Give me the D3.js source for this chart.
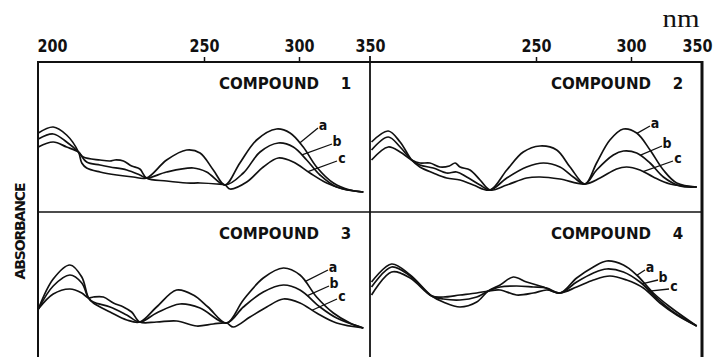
<!DOCTYPE html>
<html>
<head>
<meta charset="utf-8">
<script src="https://cdn.jsdelivr.net/npm/d3@7"></script>
<style>
  body { margin: 0; background: #fff; }
  svg { display: block; }
</style>
</head>
<body>
<div id="chart"></div>
<script>
// spectra: [wavelength nm, absorbance (arbitrary units)]
var compound1a = [[195.5,0.79],[200.4,0.85],[204.8,0.77],[208.7,0.60],[209.8,0.49],[211.4,0.44],[215.8,0.40],[221.3,0.37],[226.7,0.35],[231.1,0.34],[237.7,0.52],[244.3,0.62],[248.7,0.59],[254.9,0.42],[261.1,0.27],[268.9,0.49],[277.7,0.72],[288.2,0.83],[295.3,0.79],[303.0,0.65],[312.4,0.45],[324.2,0.29],[335.9,0.22],[345.3,0.20]];
var compound1b = [[195.5,0.73],[200.4,0.78],[204.8,0.70],[208.7,0.60],[211.4,0.50],[215.8,0.47],[219.1,0.45],[224.6,0.42],[228.9,0.37],[231.1,0.34],[237.7,0.40],[246.5,0.44],[251.4,0.40],[261.1,0.27],[270.7,0.39],[279.5,0.60],[289.1,0.69],[297.0,0.65],[305.4,0.52],[314.8,0.37],[326.5,0.25],[345.3,0.20]];
var compound1c = [[195.5,0.65],[200.4,0.70],[204.8,0.65],[208.7,0.60],[210.3,0.55],[215.8,0.52],[219.1,0.51],[220.7,0.52],[223.5,0.51],[226.2,0.46],[228.9,0.43],[231.1,0.34],[237.7,0.31],[244.3,0.29],[248.7,0.29],[256.7,0.28],[261.1,0.27],[263.7,0.23],[272.5,0.30],[281.2,0.45],[289.1,0.54],[297.0,0.50],[307.7,0.39],[319.5,0.29],[331.2,0.23],[345.3,0.20]];

var compound2a = [[195.9,0.70],[201.4,0.81],[205.3,0.70],[209.1,0.52],[211.8,0.45],[216.2,0.39],[220.6,0.34],[225.0,0.32],[229.4,0.27],[234.9,0.22],[240.4,0.42],[245.8,0.60],[252.1,0.66],[260.9,0.62],[267.9,0.45],[275.8,0.28],[281.9,0.49],[288.9,0.72],[296.0,0.83],[304.0,0.79],[313.4,0.62],[322.8,0.42],[332.2,0.29],[346.3,0.25]];
var compound2b = [[195.9,0.62],[201.4,0.75],[205.3,0.65],[209.1,0.52],[211.8,0.47],[216.2,0.44],[220.6,0.39],[223.9,0.40],[227.2,0.35],[231.6,0.27],[234.9,0.22],[240.4,0.34],[246.9,0.45],[253.9,0.49],[262.6,0.45],[269.6,0.35],[275.8,0.28],[281.9,0.42],[290.7,0.57],[296.0,0.61],[304.0,0.59],[313.4,0.49],[322.8,0.35],[334.5,0.26],[346.3,0.25]];
var compound2c = [[195.9,0.52],[201.4,0.65],[205.3,0.60],[209.1,0.52],[211.8,0.49],[215.1,0.49],[218.4,0.45],[221.5,0.46],[223.4,0.49],[225.0,0.45],[228.3,0.42],[231.6,0.32],[234.9,0.22],[240.4,0.27],[246.9,0.34],[252.1,0.35],[262.6,0.33],[275.8,0.28],[283.7,0.34],[292.4,0.43],[297.7,0.45],[306.3,0.42],[315.7,0.35],[327.5,0.28],[346.3,0.25]];

var compound3a = [[195.5,0.53],[200.4,0.83],[205.9,0.97],[209.8,0.85],[212.0,0.64],[213.6,0.59],[219.1,0.50],[224.6,0.42],[228.9,0.40],[234.4,0.55],[241.0,0.72],[246.5,0.67],[252.1,0.55],[261.9,0.39],[270.7,0.62],[281.2,0.84],[291.8,0.94],[300.7,0.87],[312.4,0.65],[324.2,0.49],[335.9,0.39],[345.3,0.34]];
var compound3b = [[195.5,0.53],[200.4,0.76],[205.9,0.87],[209.8,0.79],[212.0,0.64],[213.6,0.60],[219.1,0.55],[224.6,0.47],[228.9,0.40],[234.4,0.49],[242.1,0.58],[248.7,0.54],[261.9,0.39],[270.7,0.55],[281.2,0.70],[291.8,0.77],[300.7,0.72],[314.8,0.55],[326.5,0.44],[345.3,0.34]];
var compound3c = [[195.5,0.53],[200.4,0.68],[205.9,0.73],[209.8,0.69],[212.0,0.64],[213.6,0.65],[216.9,0.65],[220.2,0.59],[223.5,0.55],[226.2,0.50],[228.9,0.40],[234.4,0.40],[241.0,0.41],[247.6,0.36],[254.9,0.38],[261.9,0.39],[265.4,0.35],[274.2,0.45],[283.0,0.55],[291.8,0.63],[300.7,0.59],[312.4,0.49],[326.5,0.39],[345.3,0.34]];

var compound4a = [[195.9,0.80],[202.5,0.98],[208.6,0.87],[215.7,0.66],[219.5,0.60],[225.0,0.55],[230.5,0.60],[234.3,0.71],[238.2,0.77],[242.5,0.85],[246.9,0.80],[253.9,0.75],[262.6,0.69],[271.4,0.84],[280.2,0.95],[287.2,1.01],[296.0,0.97],[304.0,0.87],[315.7,0.69],[327.5,0.55],[346.3,0.36]];
var compound4b = [[195.9,0.75],[202.5,0.95],[208.6,0.86],[215.7,0.66],[219.5,0.63],[225.0,0.62],[230.5,0.65],[234.3,0.71],[238.2,0.75],[243.6,0.76],[249.1,0.75],[255.6,0.74],[262.6,0.69],[271.4,0.80],[280.2,0.89],[287.2,0.93],[296.0,0.90],[306.3,0.80],[318.0,0.64],[329.8,0.50],[346.3,0.36]];
var compound4c = [[195.9,0.67],[202.5,0.90],[208.6,0.84],[215.7,0.66],[219.5,0.65],[225.0,0.67],[230.5,0.69],[234.3,0.71],[238.2,0.72],[243.6,0.67],[249.1,0.69],[255.6,0.72],[262.6,0.69],[271.4,0.75],[280.2,0.82],[288.9,0.86],[297.7,0.82],[308.7,0.74],[320.4,0.59],[332.2,0.47],[346.3,0.36]];

var seriesNames = ["a", "b", "c"];
var compoundNumbers = ["1", "2", "3", "4"];
var tickLabelsLeft = [200, 250, 300, 350];
var tickLabelsRight = [250, 300, 350];
var tickMarks = [250, 300];
// wavelength where each a/b/c leader line meets its curve
var tagWavelengths = [[300.7, 302.1, 306.3], [304.2, 306.3, 308.5], [304.2, 305.6, 309.2], [304.2, 307.7, 311.3]];

var panels = [
    { series: [compound1a, compound1b, compound1c], col: 0, row: 0 },
    { series: [compound2a, compound2b, compound2c], col: 1, row: 0 },
    { series: [compound3a, compound3b, compound3c], col: 0, row: 1 },
    { series: [compound4a, compound4b, compound4c], col: 1, row: 1 }
];

// a/b/c letter placement inside each panel (px from panel corner: centre x, baseline y)
var tagAnchors = [
    [[285, 68], [299, 84], [304, 101]],
    [[285, 66], [297, 86], [308, 101]],
    [[295, 60], [296, 76], [304, 89]],
    [[280, 60], [293, 70], [304, 79]]
];

var width = 717, height = 357;
var left0 = 38, top0 = 62, panelW = 332, panelH = 150;

var svg = d3.select("#chart").append("svg")
    .attr("width", width)
    .attr("height", height);

var ink = "#111";

function xScale(col) {
    var x0 = left0 + col * panelW;
    // the instrument's wavelength axis is not linear
    return d3.scaleLinear()
        .domain([200, 250, 300, 350])
        .range([x0 + 14, x0 + 166, x0 + 261, x0 + 332]);
}
function yScale(row) {
    var t = top0 + row * panelH;
    return d3.scaleLinear().domain([0, 1.5]).range([t + panelH, t]);
}
function valueAt(data, w) {
    var i = d3.bisector(function (d) { return d[0]; }).left(data, w);
    i = Math.max(1, Math.min(data.length - 1, i));
    var p = data[i - 1], q = data[i];
    return p[1] + (q[1] - p[1]) * (w - p[0]) / (q[0] - p[0]);
}

// frame
var frame = svg.append("g").attr("stroke", ink).attr("fill", "none");
frame.append("line").attr("x1", left0 - 1).attr("x2", left0 + 2 * panelW).attr("y1", top0).attr("y2", top0).attr("stroke-width", 2);
frame.append("line").attr("x1", left0).attr("x2", left0 + 2 * panelW).attr("y1", top0 + panelH).attr("y2", top0 + panelH).attr("stroke-width", 1.5);
frame.append("line").attr("x1", left0).attr("x2", left0).attr("y1", top0 - 1).attr("y2", height).attr("stroke-width", 2);
frame.append("line").attr("x1", left0 + panelW).attr("x2", left0 + panelW).attr("y1", top0 - 6).attr("y2", height).attr("stroke-width", 1.8);
frame.append("line").attr("x1", left0 + 2 * panelW).attr("x2", left0 + 2 * panelW).attr("y1", top0 - 1).attr("y2", height).attr("stroke-width", 3);

// top wavelength axes
[0, 1].forEach(function (col) {
    var x = xScale(col);
    var labels = col === 0 ? tickLabelsLeft : tickLabelsRight;
    var axis = svg.append("g")
        .attr("transform", "translate(0," + top0 + ")")
        .call(d3.axisTop(x).tickValues(labels).tickSize(5).tickPadding(5).tickFormat(d3.format("d")));
    axis.select(".domain").remove();
    axis.selectAll(".tick line")
        .attr("stroke", ink)
        .attr("stroke-width", 1.5)
        .style("display", function (d) { return tickMarks.indexOf(d) >= 0 ? null : "none"; });
    axis.selectAll(".tick text")
        .attr("fill", ink)
        .attr("dx", function (d) { return col === 1 && d === 350 ? -5 : 0; })
        .style("font-family", "'DejaVu Sans Condensed', 'Liberation Sans Narrow', 'DejaVu Sans', sans-serif")
        .style("font-weight", "bold")
        .style("font-size", "17px")
        .attr("textLength", 30)
        .attr("lengthAdjust", "spacingAndGlyphs");
});

svg.append("text")
    .attr("x", 681).attr("y", 27)
    .attr("text-anchor", "middle")
    .attr("fill", ink)
    .style("font-family", "'Liberation Serif', 'DejaVu Serif', serif")
    .style("font-size", "26px")
    .attr("textLength", 37)
    .attr("lengthAdjust", "spacingAndGlyphs")
    .text("nm");

svg.append("text")
    .attr("transform", "translate(25,231) rotate(-90)")
    .attr("text-anchor", "middle")
    .attr("fill", ink)
    .style("font-family", "'DejaVu Sans', sans-serif")
    .style("font-weight", "bold")
    .style("font-size", "14px")
    .attr("textLength", 97)
    .attr("lengthAdjust", "spacing")
    .text("ABSORBANCE");

var line = d3.line().curve(d3.curveCatmullRom.alpha(0.5));

panels.forEach(function (p, k) {
    var x = xScale(p.col), y = yScale(p.row);
    var x0 = left0 + p.col * panelW, t = top0 + p.row * panelH;
    var g = svg.append("g");

    g.append("text")
        .attr("x", x0 + 181).attr("y", t + 27)
        .attr("fill", ink)
        .style("font-family", "'DejaVu Sans', sans-serif")
        .style("font-weight", "bold")
        .style("font-size", "15px")
        .attr("textLength", 100)
        .attr("lengthAdjust", "spacingAndGlyphs")
        .text("COMPOUND");
    g.append("text")
        .attr("x", x0 + 308).attr("y", t + 27)
        .attr("text-anchor", "middle")
        .attr("fill", ink)
        .style("font-family", "'DejaVu Sans', sans-serif")
        .style("font-weight", "bold")
        .style("font-size", "15px")
        .text(compoundNumbers[k]);

    g.selectAll("path.spec")
        .data(p.series)
        .enter().append("path")
        .attr("class", "spec")
        .attr("fill", "none")
        .attr("stroke", ink)
        .attr("stroke-width", 1.7)
        .attr("d", function (d) {
            return line(d.map(function (v) { return [x(v[0]), y(v[1])]; }));
        });

    seriesNames.forEach(function (name, i) {
        var w = tagWavelengths[k][i];
        var sx = x(w), sy = y(valueAt(p.series[i], w));
        var tx = x0 + tagAnchors[k][i][0], ty = t + tagAnchors[k][i][1];
        g.append("line")
            .attr("x1", sx).attr("y1", sy)
            .attr("x2", tx - 5).attr("y2", ty - 2)
            .attr("stroke", ink)
            .attr("stroke-width", 1.3);
        g.append("text")
            .attr("x", tx).attr("y", ty)
            .attr("text-anchor", "middle")
            .attr("fill", ink)
            .style("font-family", "'DejaVu Sans Condensed', 'DejaVu Sans', sans-serif")
            .style("font-weight", "bold")
            .style("font-size", "14px")
            .text(name);
    });
});
</script>
</body>
</html>
